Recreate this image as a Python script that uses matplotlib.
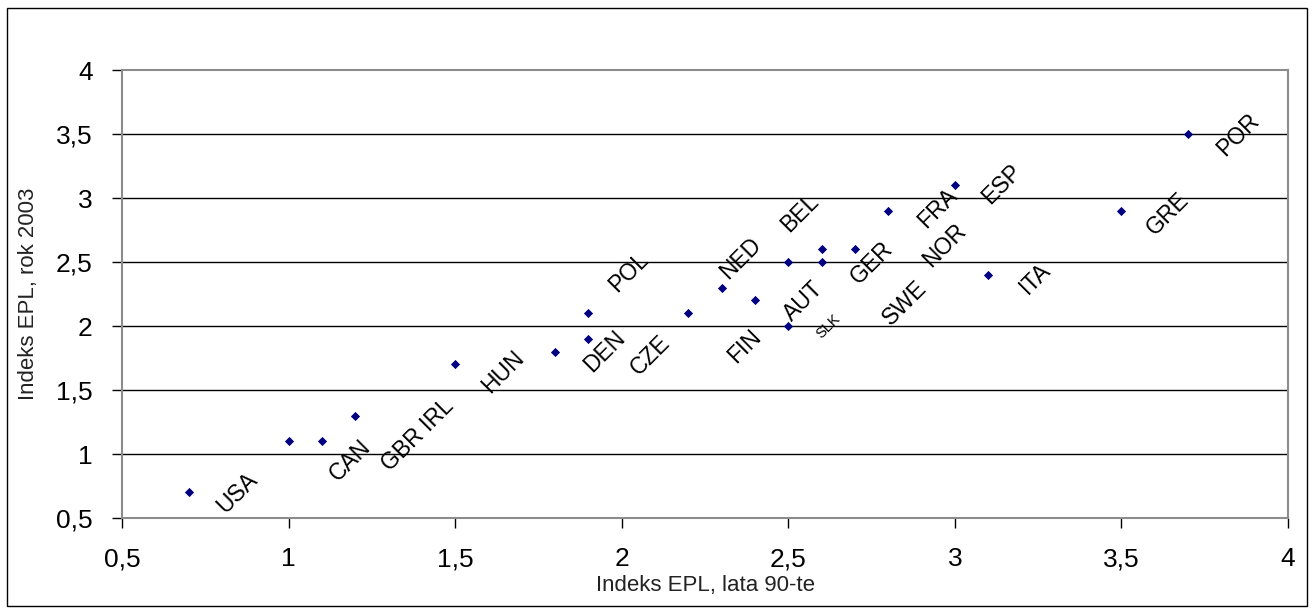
import matplotlib
matplotlib.use("Agg")
import matplotlib.pyplot as plt
from matplotlib.patches import Rectangle

plt.rcParams['font.family'] = ['Liberation Sans', 'DejaVu Sans']

# EPL index: 1990s (x) vs 2003 (y)
epl_90s = [0.7, 1.0, 1.1, 1.2, 1.5, 1.8, 1.9, 1.9, 2.2, 2.3, 2.4,
           2.5, 2.5, 2.6, 2.6, 2.7, 2.8, 3.0, 3.1, 3.5, 3.7]
epl_2003 = [0.7, 1.1, 1.1, 1.3, 1.7, 1.8, 2.1, 1.9, 2.1, 2.3, 2.2,
            2.5, 2.0, 2.6, 2.5, 2.6, 2.9, 3.1, 2.4, 2.9, 3.5]

# Country labels and their anchor positions (data units)
countries = ["USA", "CAN", "GBR IRL", "HUN", "POL", "DEN", "CZE", "NED",
             "FIN", "AUT", "SLK", "BEL", "GER", "SWE", "NOR", "FRA",
             "ESP", "ITA", "GRE", "POR"]
label_x = [0.845, 1.185, 1.389, 1.644, 2.02, 1.95, 2.085, 2.356,
           2.37, 2.545, 2.62, 2.536, 2.75, 2.85, 2.97, 2.95,
           3.14, 3.24, 3.64, 3.85]
label_y = [0.695, 0.953, 1.148, 1.64, 2.42, 1.80, 1.77, 2.53,
           1.84, 2.19, 2.0, 2.88, 2.49, 2.18, 2.63, 2.92,
           3.11, 2.37, 2.88, 3.49]

x_ticks = [0.5, 1, 1.5, 2, 2.5, 3, 3.5, 4]
y_ticks = [0.5, 1, 1.5, 2, 2.5, 3, 3.5, 4]

fig = plt.figure(figsize=(13.14, 6.11), dpi=100)
ax = fig.add_axes([122 / 1314, 1 - 518 / 611, (1288 - 122) / 1314, (518 - 70) / 611])

# outer frame
fig.patches.append(Rectangle((7 / 1314, 5 / 611), 1300 / 1314, 598 / 611,
                             transform=fig.transFigure, fill=False,
                             edgecolor='black', linewidth=1.0))

ax.scatter(epl_90s, epl_2003, marker='D', s=22, color='#000080', zorder=3,
           linewidths=0)

for name, lx, ly in zip(countries, label_x, label_y):
    size = 10.5 if name == "SLK" else 16.5
    ax.text(lx, ly, name, rotation=45, ha='center', va='center',
            fontsize=size, color='black', rotation_mode='anchor')

ax.set_xlim(0.5, 4)
ax.set_ylim(0.5, 4)
ax.set_xticks(x_ticks)
ax.set_yticks(y_ticks)
fmt = lambda v: (f"{v:g}").replace('.', ',')
ax.set_xticklabels([fmt(v) for v in x_ticks], fontsize=19)
ax.set_yticklabels([fmt(v) for v in y_ticks], fontsize=19)
ax.tick_params(direction='out', length=7, width=1, color='black')
ax.tick_params(axis='x', pad=14)
ax.tick_params(axis='y', pad=14)

for y in y_ticks[1:-1]:
    ax.axhline(y, color='black', linewidth=1.0, zorder=1)

for sp in ax.spines.values():
    sp.set_color('#8c8c8c')
    sp.set_linewidth(1.5)

ax.set_xlabel("Indeks EPL, lata 90-te", fontsize=16, color='#222222', labelpad=3)
ax.set_ylabel("Indeks EPL, rok 2003", fontsize=16, color='#222222', labelpad=12)

fig.savefig("out.png", dpi=100)
